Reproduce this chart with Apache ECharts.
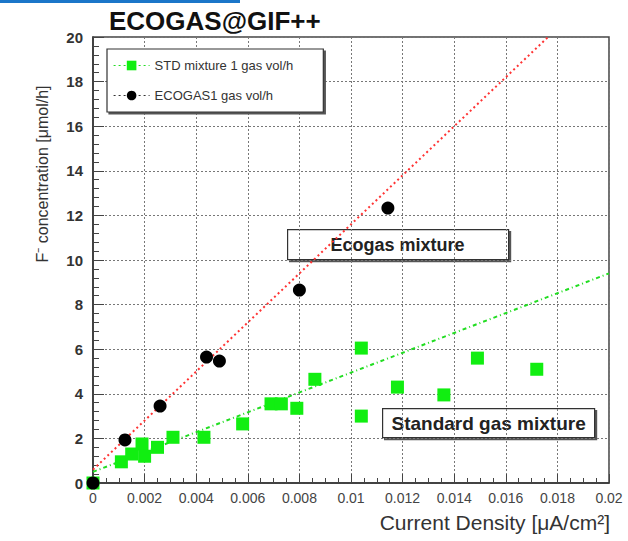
<!DOCTYPE html>
<html>
<head>
<meta charset="utf-8">
<script src="https://cdn.jsdelivr.net/npm/echarts@6/dist/echarts.min.js"></script>
<style>
	html, body { margin: 0; padding: 0; background: #fff; }
	#chartGas { width: 628px; height: 541px; }
</style>
</head>
<body>
<div id="chartGas"></div>
<script>
// STD mixture, 1 gas vol/h : [current density, F- concentration]
var stdX = [0, 0.0011, 0.0015, 0.0019, 0.0020, 0.0025, 0.0031, 0.0043, 0.0058, 0.0069, 0.0073, 0.0079, 0.0086, 0.0104, 0.0104, 0.0118, 0.0136, 0.0149, 0.0172];
var stdY = [0, 0.95, 1.3, 1.75, 1.2, 1.6, 2.05, 2.05, 2.65, 3.55, 3.55, 3.35, 4.65, 6.05, 3.0, 4.3, 3.95, 5.6, 5.1];
// ECOGAS, 1 gas vol/h
var ecoX = [0, 0.00124, 0.0026, 0.0044, 0.0049, 0.0080, 0.01143];
var ecoY = [0, 1.93, 3.45, 5.65, 5.47, 8.65, 12.33];
// fit line end points
var stdFitX = [0, 0.02];
var stdFitY = [0.5, 9.4];
var ecoFitX = [0, 0.01764];
var ecoFitY = [0.6, 20];

var xTicks = { min: 0, max: 0.02, step: 0.002 };
var yTicks = { min: 0, max: 20, step: 2 };

function pairs(xs, ys) {
	var out = [];
	for (var i = 0; i < xs.length; i++) out.push([xs[i], ys[i]]);
	return out;
}

var chartGas = echarts.init(document.getElementById('chartGas'), null, { renderer: 'svg' });

var axisFont = 'Liberation Sans, Arial, sans-serif';

option_gas = {
	backgroundColor: '#fff',
	animation: false,
	title: {
		text: 'ECOGAS@GIF++',
		left: 104,
		top: 3,
		textStyle: {
			fontFamily: axisFont,
			fontSize: 26,
			fontWeight: 'bold',
			color: '#111'
		}
	},
	grid: {
		left: 93,
		right: 19,
		top: 37,
		bottom: 58,
		show: true,
		borderColor: '#444',
		borderWidth: 1.5,
		containLabel: false
	},
	legend: {
		orient: 'vertical',
		left: 107,
		top: 49,
		padding: [10, 30, 10, 6],
		itemGap: 17,
		itemWidth: 36,
		itemHeight: 12,
		backgroundColor: '#fff',
		borderColor: '#333',
		borderWidth: 1.2,
		shadowColor: '#555',
		shadowOffsetX: 2,
		shadowOffsetY: 2,
		textStyle: {
			fontFamily: axisFont,
			fontSize: 13,
			color: '#333'
		},
		data: [{
				name: 'STD mixture 1 gas vol/h',
				lineStyle: { opacity: 1, color: '#22dd22', type: [2, 3], width: 1.2 }
			},
			{
				name: 'ECOGAS1 gas vol/h',
				lineStyle: { opacity: 1, color: '#333', type: [2, 3], width: 1.2 }
			}
		]
	},
	xAxis: {
		type: 'value',
		min: xTicks.min,
		max: xTicks.max,
		interval: xTicks.step,
		axisLine: { show: true, onZero: false, lineStyle: { color: '#333', width: 1.5 } },
		axisTick: { show: true, inside: true, length: 9, lineStyle: { color: '#444' } },
		minorTick: { show: true, splitNumber: 4, length: 5, lineStyle: { color: '#444' } },
		splitLine: { show: true, lineStyle: { color: '#777', type: [2, 2], width: 1 } },
		axisLabel: {
			margin: 8,
			fontFamily: axisFont,
			fontSize: 14,
			color: '#444',
			showMaxLabel: true,
			showMinLabel: true
		}
	},
	yAxis: {
		type: 'value',
		min: yTicks.min,
		max: yTicks.max,
		interval: yTicks.step,
		axisLine: { show: true, onZero: false, lineStyle: { color: '#333', width: 1.5 } },
		axisTick: { show: true, inside: true, length: 11, lineStyle: { color: '#444' } },
		minorTick: { show: true, splitNumber: 5, length: 6, lineStyle: { color: '#444' } },
		splitLine: { show: true, lineStyle: { color: '#777', type: [2, 2], width: 1 } },
		axisLabel: {
			margin: 10,
			fontFamily: axisFont,
			fontSize: 15,
			fontWeight: 'bold',
			color: '#333'
		}
	},
	graphic: [{
			type: 'rect',
			shape: { x: 0, y: 0, width: 240, height: 3 },
			style: { fill: '#1b76c9' }
		},
		{
			type: 'text',
			x: 42,
			y: 174,
			rotation: Math.PI / 2,
			style: {
				text: 'F⁻ concentration [μmol/h]',
				fontFamily: axisFont,
				fontSize: 16,
				fill: '#333',
				align: 'center',
				verticalAlign: 'middle'
			}
		},
		{
			type: 'text',
			right: 18,
			top: 512,
			style: {
				text: 'Current Density [μA/cm²]',
				fontFamily: axisFont,
				fontSize: 21,
				fill: '#333'
			}
		},
		{
			type: 'group',
			left: 287,
			top: 229,
			children: [{
					type: 'rect',
					shape: { x: 0, y: 0, width: 221, height: 30 },
					style: { fill: '#fff', stroke: '#333', lineWidth: 1.2, shadowColor: '#555', shadowOffsetX: 2, shadowOffsetY: 2 }
				},
				{
					type: 'text',
					x: 110,
					y: 15,
					style: {
						text: 'Ecogas mixture',
						fontFamily: axisFont,
						fontSize: 18,
						fontWeight: 'bold',
						fill: '#222',
						align: 'center',
						verticalAlign: 'middle'
					}
				}
			]
		},
		{
			type: 'group',
			left: 382,
			top: 408,
			children: [{
					type: 'rect',
					shape: { x: 0, y: 0, width: 212, height: 29 },
					style: { fill: '#fff', stroke: '#333', lineWidth: 1.2, shadowColor: '#555', shadowOffsetX: 2, shadowOffsetY: 2 }
				},
				{
					type: 'text',
					x: 106,
					y: 15,
					style: {
						text: 'Standard gas mixture',
						fontFamily: axisFont,
						fontSize: 19,
						fontWeight: 'bold',
						fill: '#222',
						align: 'center',
						verticalAlign: 'middle'
					}
				}
			]
		}
	],
	series: [{
			name: 'ECOGAS fit',
			type: 'line',
			data: pairs(ecoFitX, ecoFitY),
			showSymbol: false,
			lineStyle: { color: '#ff3333', width: 2, type: [2, 3] },
			z: 2
		},
		{
			name: 'STD fit',
			type: 'line',
			data: pairs(stdFitX, stdFitY),
			showSymbol: false,
			lineStyle: { color: '#22dd22', width: 2, type: [4, 3, 1, 3] },
			z: 2
		},
		{
			name: 'STD mixture 1 gas vol/h',
			type: 'line',
			data: pairs(stdX, stdY),
			symbol: 'rect',
			symbolSize: 13,
			showAllSymbol: true,
			itemStyle: { color: '#11ee11' },
			lineStyle: { opacity: 0 },
			z: 3
		},
		{
			name: 'ECOGAS1 gas vol/h',
			type: 'line',
			data: pairs(ecoX, ecoY),
			symbol: 'circle',
			symbolSize: 13,
			showAllSymbol: true,
			itemStyle: { color: '#000' },
			lineStyle: { opacity: 0 },
			z: 4
		}
	]
};

chartGas.setOption(option_gas);
window.onresize = function () {
	chartGas.resize();
};
</script>
</body>
</html>
